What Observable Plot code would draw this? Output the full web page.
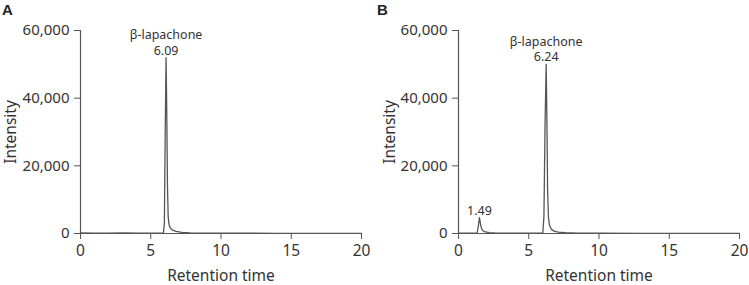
<!DOCTYPE html>
<html><head><meta charset="utf-8">
<script src="https://cdn.jsdelivr.net/npm/d3@7"></script>
<script src="https://cdn.jsdelivr.net/npm/@observablehq/plot@0.6"></script>
<style>
body{margin:0;background:#fff;font-family:"Noto Sans",sans-serif;}
#wrap{position:relative;display:flex;width:749px;height:285px;}
.panel{position:relative;}
.tag{position:absolute;left:2px;top:2px;font:bold 15px/1 "Liberation Sans",Arial,sans-serif;color:#222;}
</style></head>
<body>
<div id="wrap"><div class="panel" id="pa"><div class="tag">A</div></div><div class="panel" id="pb"><div class="tag">B</div></div></div>
<script>
// Panel A chromatogram
const timeA = [0, 1, 2, 3, 4, 5, 5.9, 5.97, 6.03, 6.09, 6.14, 6.19, 6.24, 6.3, 6.4, 6.55, 6.8, 7.2, 7.8, 9, 11, 14, 17, 20];
const intA  = [150, 120, 100, 150, 100, 120, 200, 3000, 30000, 52000, 36000, 14000, 5000, 2600, 1600, 1000, 600, 350, 200, 120, 80, 60, 50, 40];
// Panel B chromatogram
const timeB = [0, 1.0, 1.33, 1.42, 1.49, 1.55, 1.62, 1.72, 1.9, 2.2, 2.6, 3.5, 5, 6.0, 6.08, 6.16, 6.24, 6.29, 6.34, 6.4, 6.47, 6.6, 6.8, 7.1, 7.6, 8.5, 10, 13, 17, 20];
const intB  = [100, 100, 150, 2500, 4700, 3200, 1700, 900, 450, 250, 150, 100, 100, 150, 5000, 32000, 50000, 34000, 13000, 5000, 2500, 1300, 700, 400, 220, 130, 90, 60, 50, 40];
// Peak annotations
const peakTimesA = [6.09], peakHeightsA = [52000], peakNamesA = ["β-lapachone"], peakRtA = ["6.09"];
const peakTimesB = [1.49, 6.24], peakHeightsB = [4700, 50000], peakNamesB = ["", "β-lapachone"], peakRtB = ["1.49", "6.24"];
// Axes
const xTicks = [0, 5, 10, 15, 20];
const yTicks = [0, 20000, 40000, 60000];
const xLabel = "Retention time", yLabel = "Intensity";

function panel(times, ints, pT, pH, pN, pR, width, ml, mr, yOff) {
  const data = times.map((t, i) => ({t, v: ints[i]}));
  const peaks = pT.map((t, i) => ({t, v: pH[i], label: pN[i] ? pN[i] + "\n" + pR[i] : pR[i]}));
  return Plot.plot({
    width, height: 285, marginLeft: ml, marginRight: mr, marginTop: 30, marginBottom: 52,
    style: {fontFamily: '"Noto Sans", sans-serif', color: "#333", background: "#fff"},
    x: {domain: [0, 20]},
    y: {domain: [0, 60000]},
    marks: [
      Plot.axisX({ticks: xTicks, tickSize: 6, tickPadding: 5, fontSize: 15.5, stroke: "#555", label: null}),
      Plot.axisX({ticks: [], label: xLabel, labelAnchor: "center", labelArrow: "none", labelOffset: 47, fontSize: 15.5}),
      Plot.axisY({ticks: yTicks, tickFormat: d3.format(","), tickSize: 6, tickPadding: 5, fontSize: 15, stroke: "#555", label: null}),
      Plot.axisY({ticks: [], label: yLabel, labelAnchor: "center", labelArrow: "none", labelOffset: yOff, fontSize: 15.5}),
      Plot.ruleY([0], {stroke: "#555", strokeWidth: 1.2}),
      Plot.ruleX([0], {stroke: "#555", strokeWidth: 1.2}),
      Plot.line(data, {x: "t", y: "v", stroke: "#555", strokeWidth: 1.3}),
      Plot.text(peaks, {x: "t", y: "v", text: "label", lineAnchor: "bottom", lineHeight: 1.25, dy: -3, fontSize: 12.5, fill: "#333"})
    ]
  });
}
document.getElementById("pa").append(panel(timeA, intA, peakTimesA, peakHeightsA, peakNamesA, peakRtA, 375, 80, 14, 76));
document.getElementById("pb").append(panel(timeB, intB, peakTimesB, peakHeightsB, peakNamesB, peakRtB, 374, 83, 10, 75));
</script>
</body></html>
